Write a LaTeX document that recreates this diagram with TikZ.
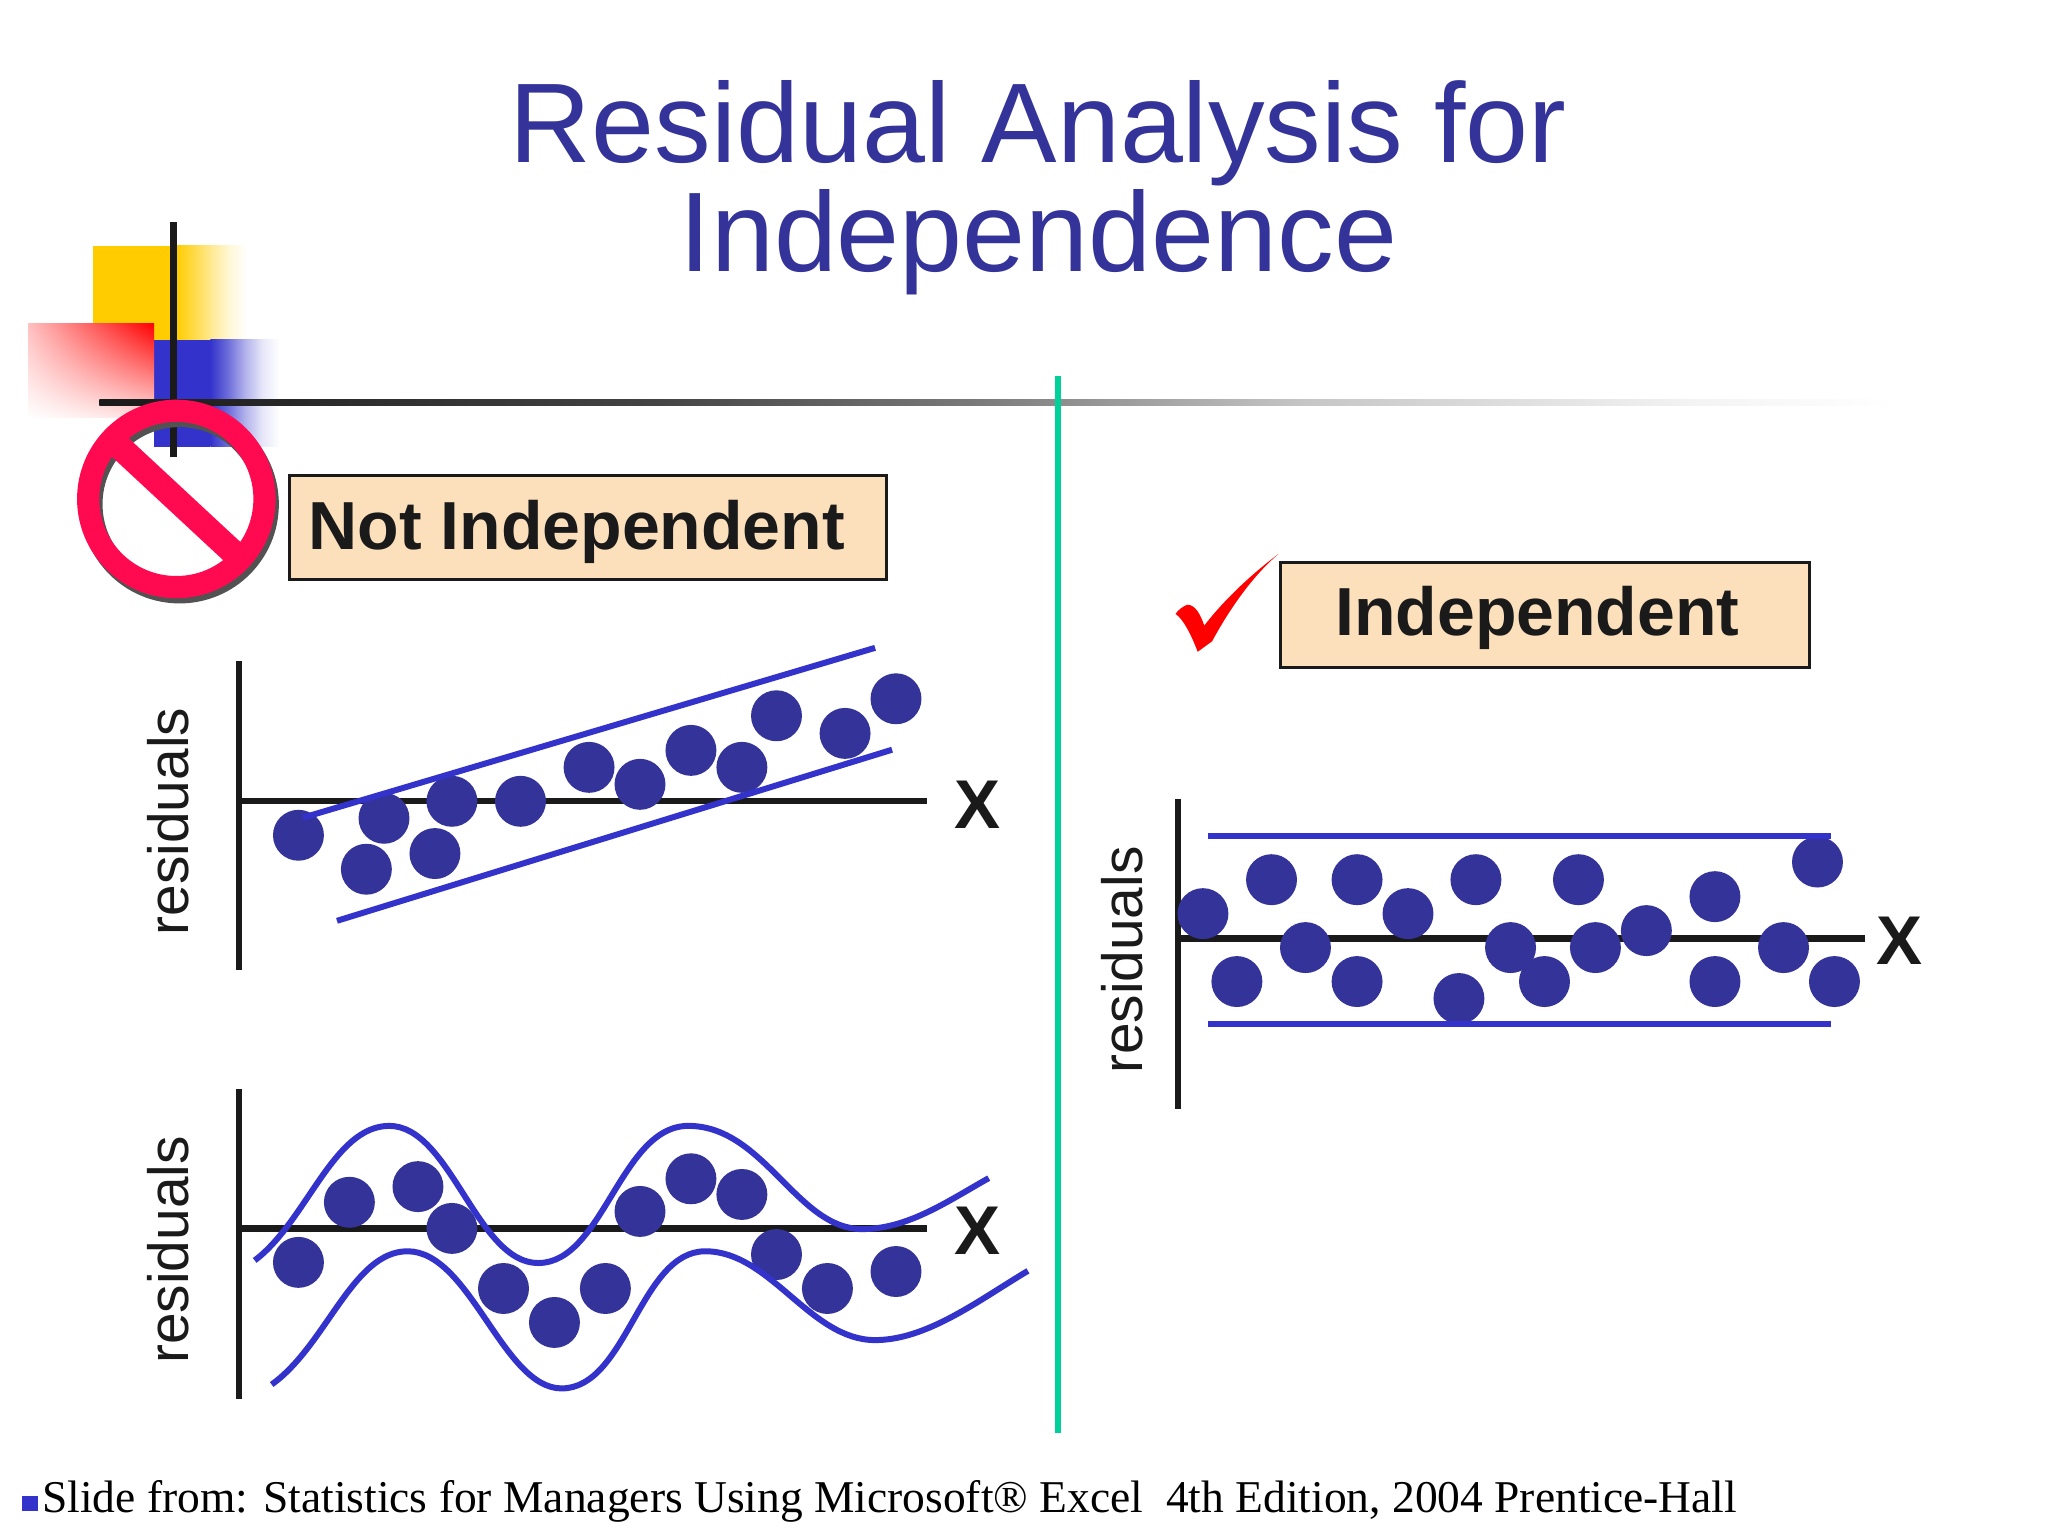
\documentclass[tikz,border=0pt]{standalone}
\usepackage{fontspec}
\usetikzlibrary{shadings}
\setmainfont{Liberation Sans}
\newfontfamily\serifface{Liberation Serif}
\definecolor{titleblue}{HTML}{333399}
\definecolor{dotblue}{HTML}{333399}
\definecolor{curveblue}{HTML}{3333CC}
\definecolor{ink}{HTML}{1A1A1A}
\definecolor{peach}{HTML}{FCE0BC}
\definecolor{nored}{HTML}{FF0A50}
\definecolor{tealline}{HTML}{00D09A}
\definecolor{goldy}{HTML}{FFCC00}
\pgfdeclarehorizontalshading{goldfade}{100bp}{color(0bp)=(goldy); color(25bp)=(goldy); color(37.5bp)=(goldy!72!white); color(50bp)=(goldy!42!white); color(62.5bp)=(goldy!16!white); color(75bp)=(white); color(100bp)=(white)}
\pgfdeclarehorizontalshading{bluefade}{100bp}{color(0bp)=(curveblue); color(25bp)=(curveblue); color(37.5bp)=(curveblue!72!white); color(50bp)=(curveblue!38!white); color(62.5bp)=(curveblue!12!white); color(75bp)=(white); color(100bp)=(white)}
\pgfdeclarehorizontalshading{rulefade}{100bp}{color(0bp)=(ink); color(25bp)=(ink); color(40.4bp)=(ink!82!white); color(49.5bp)=(ink!58!white); color(58.6bp)=(ink!25!white); color(69.5bp)=(ink!5!white); color(75bp)=(white); color(100bp)=(white)}
\tikzset{
  axisline/.style={draw=ink,line width=3.1pt},
  bandline/.style={draw=curveblue,line width=3pt},
  datadot/.style={fill=dotblue},
  labelbox/.style={draw=ink,line width=1.5pt,fill=peach},
  boxtext/.style={anchor=base west,inner sep=0pt,font=\fontsize{34}{36}\selectfont\bfseries,text=ink},
  xlabel/.style={inner sep=0pt,font=\fontsize{34.5}{36}\selectfont\bfseries,text=ink},
  reslabel/.style={inner sep=0pt,rotate=90,font=\fontsize{28.4}{30}\selectfont,text=ink},
}
\begin{document}
\begin{tikzpicture}[x=0.653125pt,y=-0.653125pt]
\useasboundingbox (0,0) rectangle (1568,1176);
\fill[white] (0,0) rectangle (1568,1176);
% title
\node[anchor=base,inner sep=0pt,text=titleblue,font=\fontsize{56.6}{60}\selectfont] (title1) at (795,124.5) {Residual Analysis for};
\node[anchor=base,inner sep=0pt,text=titleblue,font=\fontsize{56.6}{60}\selectfont] (title2) at (795,207.5) {Independence};
% template decoration
\fill[goldy] (71,188) rectangle (135,260);
\shade[shading=goldfade] (135,188) rectangle (189,260);
\fill[curveblue] (118,260) rectangle (161,342);
\shade[shading=bluefade] (161,260) rectangle (214,342);
\shade[lower left=white,upper right=red,upper left=red!25!white,lower right=red!12!white] (21.7,248) rectangle (118,320);
\fill[ink] (130.5,170) rectangle (135.5,350);
\shade[shading=rulefade] (76,305.5) rectangle (1450,310.5);
% no sign
\draw[draw=black!68,line width=11.1pt] (137.5,386) circle[radius=67.5];
\draw[draw=nored,line width=11.1pt] (135,382) circle[radius=67.5];
\draw[draw=nored,line width=12.5pt] (85,336) -- (184,428);
% divider
\draw[draw=tealline,line width=3pt] (810,288) -- (810,1097);
% labels
\draw[labelbox] (222,364) rectangle (679,444);
\node[boxtext] (nitext) at (236,421) {Not Independent};
\draw[labelbox] (980,431) rectangle (1385,511);
\node[boxtext] (itext) at (1022,486.5) {Independent};
% check
\fill[red] (979,424) .. controls (955,442) and (935,462) .. (922,479)
  .. controls (919,470) and (915,463) .. (909,463)
  .. controls (906,464) and (902,467) .. (900,470)
  .. controls (906,474) and (912,486) .. (917,499)
  -- (928,491) .. controls (942,465) and (960,440) .. (979,424) -- cycle;
% panel 1
\draw[axisline] (183,506) -- (183,743);
\draw[axisline] (183,613) -- (710,613);
\foreach \p in {(228.5,639.5),(280.5,665.5),(294,626.5),(333,653.5),(346,613.5),(398.5,613.5),(451,587.5),(490,600.5),(529,574.5),(568,587.5),(594.5,548),(647,561.5),(686,535)}
  \fill[datadot] \p circle[radius=19.5];
\draw[bandline] (232,626) -- (670,496);
\draw[bandline] (258,705) -- (683,574);
\node[xlabel] (x1) at (748.5,616) {X};
\node[reslabel] (r1) at (128.5,629) {residuals};
% panel 2
\draw[axisline] (183,834) -- (183,1071);
\draw[axisline] (183,940.5) -- (710,940.5);
\foreach \p in {(228.5,966.5),(267.5,920.5),(320,908.5),(346,940.5),(385.5,986.5),(424.5,1012.5),(463.5,986.5),(490,927.5),(529,902.5),(568,914.5),(594.5,960.5),(633.5,986.5),(686,973.5)}
  \fill[datadot] \p circle[radius=19.5];
\draw[bandline] (195,965) .. controls (235,935) and (255,862) .. (298,862)
  .. controls (345,862) and (365,967) .. (412,967)
  .. controls (462,967) and (475,862) .. (527,862)
  .. controls (585,862) and (610,941) .. (660,941)
  .. controls (695,941) and (725,920) .. (757,902);
\draw[bandline] (208,1060) .. controls (250,1030) and (270,958) .. (312,958)
  .. controls (360,958) and (385,1063) .. (430,1063)
  .. controls (480,1063) and (490,958) .. (540,958)
  .. controls (590,958) and (620,1026) .. (670,1026)
  .. controls (710,1026) and (750,995) .. (787,973);
\node[xlabel] (x2) at (748.5,942) {X};
\node[reslabel] (r2) at (128.5,957) {residuals};
% panel 3
\draw[axisline] (902,612) -- (902,849);
\draw[axisline] (902,718.5) -- (1428,718.5);
\foreach \p in {(921,699.5),(947,751.5),(973.5,673.5),(999.5,725.5),(1039,673.5),(1039,751.5),(1078,699.5),(1117,764.5),(1130,673.5),(1156.5,725.5),(1182.5,751.5),(1208.5,673.5),(1221.5,725.5),(1260.5,712.5),(1313,686.5),(1313,751.5),(1365.5,725.5),(1391.5,660),(1404.5,751.5)}
  \fill[datadot] \p circle[radius=19.5];
\draw[bandline] (925,640) -- (1402,640);
\draw[bandline] (925,784) -- (1402,784);
\node[xlabel] (x3) at (1454.5,720) {X};
\node[reslabel] (r3) at (859.5,735) {residuals};
% footer
\fill[curveblue] (17,1145) rectangle (29,1157);
\node[anchor=base west,inner sep=0pt,text=black,font=\serifface\fontsize{22.75}{24}\selectfont] (foot) at (32,1158) {Slide from: Statistics for Managers Using Microsoft® Excel\ \ 4th Edition, 2004 Prentice-Hall};
\end{tikzpicture}
\end{document}
